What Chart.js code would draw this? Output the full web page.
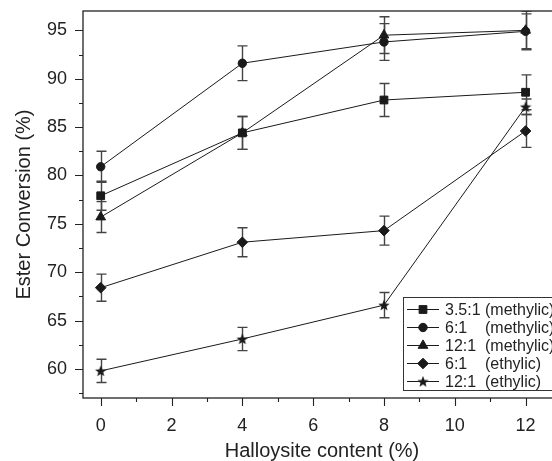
<!DOCTYPE html>
<html>
<head>
<meta charset="utf-8">
<script src="https://cdn.jsdelivr.net/npm/chart.js@4"></script>
<style>
  html, body { margin: 0; padding: 0; background: #fff; overflow: hidden; }
  #wrap { width: 580px; height: 461px; }
</style>
</head>
<body>
<div id="wrap"><canvas id="myChart" width="580" height="461"></canvas></div>
<script>
// halloysite content (%)
const xValues = [0, 4, 8, 12];

// ester conversion (%) and error bars per series
const ratio35Methylic = [77.9, 84.4, 87.8, 88.6];
const ratio35MethylicErr = [1.5, 1.7, 1.7, 1.8];
const ratio6Methylic = [80.9, 91.6, 93.8, 94.9];
const ratio6MethylicErr = [1.6, 1.8, 1.9, 1.8];
const ratio12Methylic = [75.7, 84.4, 94.5, 95.0];
const ratio12MethylicErr = [1.6, 1.7, 1.9, 2.0];
const ratio6Ethylic = [68.4, 73.1, 74.3, 84.6];
const ratio6EthylicErr = [1.4, 1.5, 1.5, 1.7];
const ratio12Ethylic = [59.8, 63.1, 66.6, 87.1];
const ratio12EthylicErr = [1.2, 1.2, 1.3, 0.8];

const legendRatios = ['3.5:1', '6:1', '12:1', '6:1', '12:1'];
const legendAlcohols = ['(methylic)', '(methylic)', '(methylic)', '(ethylic)', '(ethylic)'];

const xTicks = [0, 2, 4, 6, 8, 10, 12];
const xMinor = [1, 3, 5, 7, 9, 11];
const yTicks = [60, 65, 70, 75, 80, 85, 90, 95];
const yMinor = [57.5, 62.5, 67.5, 72.5, 77.5, 82.5, 87.5, 92.5];

const FONT = '"Liberation Sans", Arial, Helvetica, sans-serif';
const INK = '#1a1a1a';

// filled five point star for the 12:1 ethylic series
function makeStar(size) {
    const c = document.createElement('canvas');
    c.width = size; c.height = size;
    const g = c.getContext('2d');
    const cx = size / 2, cy = size / 2 + 0.5, ro = size / 2, ri = size / 4.6;
    g.beginPath();
    for (let i = 0; i < 10; i++) {
        const r = i % 2 ? ri : ro;
        const a = -Math.PI / 2 + i * Math.PI / 5;
        g.lineTo(cx + r * Math.cos(a), cy + r * Math.sin(a));
    }
    g.closePath();
    g.fillStyle = INK;
    g.fill();
    return c;
}
const starImg = makeStar(12);

function toPoints(values) {
    return values.map((v, i) => ({ x: xValues[i], y: v }));
}

function series(label, values, errs, style, radius) {
    return {
        label: label,
        data: toPoints(values),
        errors: errs,
        borderColor: INK,
        borderWidth: 1,
        backgroundColor: INK,
        pointBackgroundColor: INK,
        pointBorderColor: INK,
        pointBorderWidth: 1,
        pointStyle: style,
        pointRadius: radius,
        tension: 0,
        fill: false
    };
}

const datasets = [
    series('3.5:1 (methylic)', ratio35Methylic, ratio35MethylicErr, 'rect', 5.5),
    series('6:1 (methylic)', ratio6Methylic, ratio6MethylicErr, 'circle', 4.2),
    series('12:1 (methylic)', ratio12Methylic, ratio12MethylicErr, 'triangle', 5.6),
    series('6:1 (ethylic)', ratio6Ethylic, ratio6EthylicErr, 'rectRot', 5.3),
    series('12:1 (ethylic)', ratio12Ethylic, ratio12EthylicErr, starImg, 6)
];

const errorBars = {
    id: 'errorBars',
    beforeDatasetsDraw(chart) {
        const { ctx, scales: { x, y }, chartArea: a } = chart;
        ctx.save();
        ctx.beginPath();
        ctx.rect(a.left, a.top, a.right - a.left, a.bottom - a.top);
        ctx.clip();
        ctx.strokeStyle = '#444';
        ctx.lineWidth = 1.4;
        chart.data.datasets.forEach(ds => {
            ds.data.forEach((pt, j) => {
                const e = ds.errors[j];
                const px = Math.round(x.getPixelForValue(pt.x)) + 0.5;
                const top = y.getPixelForValue(pt.y + e);
                const bot = y.getPixelForValue(pt.y - e);
                ctx.beginPath();
                ctx.moveTo(px, top); ctx.lineTo(px, bot);
                ctx.moveTo(px - 5, top); ctx.lineTo(px + 5, top);
                ctx.moveTo(px - 5, bot); ctx.lineTo(px + 5, bot);
                ctx.stroke();
            });
        });
        ctx.restore();
    }
};

const frameAndTicks = {
    id: 'frameAndTicks',
    afterDraw(chart) {
        const { ctx, chartArea: a, scales: { x, y } } = chart;
        ctx.save();
        ctx.strokeStyle = '#222';
        ctx.lineWidth = 1.3;
        ctx.strokeRect(a.left, a.top, a.right - a.left, a.bottom - a.top);
        ctx.lineWidth = 1.1;
        ctx.beginPath();
        yTicks.forEach(v => {
            const p = Math.round(y.getPixelForValue(v)) + 0.5;
            ctx.moveTo(a.left, p); ctx.lineTo(a.left - 8, p);
        });
        yMinor.forEach(v => {
            const p = Math.round(y.getPixelForValue(v)) + 0.5;
            ctx.moveTo(a.left, p); ctx.lineTo(a.left - 4, p);
        });
        xTicks.forEach(v => {
            const p = Math.round(x.getPixelForValue(v)) + 0.5;
            ctx.moveTo(p, a.bottom); ctx.lineTo(p, a.bottom + 8);
        });
        xMinor.forEach(v => {
            const p = Math.round(x.getPixelForValue(v)) + 0.5;
            ctx.moveTo(p, a.bottom); ctx.lineTo(p, a.bottom + 4);
        });
        ctx.stroke();

        // legend box, lower right, ratio and alcohol in two columns
        const boxLeft = 403.5, boxTop = 297.5, rowGap = 18;
        ctx.fillStyle = '#fff';
        ctx.fillRect(boxLeft, boxTop, 200, 93);
        ctx.strokeStyle = '#333';
        ctx.lineWidth = 1;
        ctx.strokeRect(boxLeft, boxTop, 200, 93);
        ctx.font = '16px ' + FONT;
        ctx.textBaseline = 'middle';
        ctx.textAlign = 'left';
        chart.data.datasets.forEach((ds, i) => {
            const ry = boxTop + 12 + i * rowGap;
            ctx.strokeStyle = INK;
            ctx.lineWidth = 1;
            ctx.beginPath();
            ctx.moveTo(407, ry); ctx.lineTo(439, ry);
            ctx.stroke();
            ctx.fillStyle = INK;
            Chart.helpers.drawPoint(ctx, {
                pointStyle: ds.pointStyle, radius: ds.pointRadius, rotation: 0, borderWidth: 1
            }, 423, ry);
            ctx.fillStyle = '#222';
            ctx.fillText(legendRatios[i], 445, ry + 1);
            ctx.fillText(legendAlcohols[i], 485, ry + 1);
        });
        ctx.restore();
    }
};

const ctx = document.getElementById('myChart').getContext('2d');
new Chart(ctx, {
    type: 'line',
    data: { datasets: datasets },
    options: {
        responsive: false,
        animation: false,
        events: [],
        layout: { padding: { left: 0, top: 11, right: 19, bottom: 0 } },
        plugins: {
            legend: { display: false },
            tooltip: { enabled: false }
        },
        scales: {
            x: {
                type: 'linear',
                min: -0.5,
                max: 13,
                afterFit(scale) {
                    scale.height = 63;
                    scale.paddingLeft = 0;
                    scale.paddingRight = 0;
                },
                afterBuildTicks(scale) { scale.ticks = xTicks.map(v => ({ value: v })); },
                grid: { display: false, drawTicks: false },
                border: { display: false },
                ticks: {
                    padding: 17,
                    color: '#222',
                    font: { family: FONT, size: 18 },
                    maxRotation: 0
                },
                title: {
                    display: true,
                    text: 'Halloysite content (%)',
                    color: '#222',
                    font: { family: FONT, size: 20, lineHeight: 1 },
                    padding: { top: 0, bottom: 0 }
                }
            },
            y: {
                type: 'linear',
                min: 57,
                max: 97,
                afterFit(scale) {
                    scale.width = 83;
                    scale.paddingTop = 0;
                    scale.paddingBottom = 0;
                },
                afterBuildTicks(scale) { scale.ticks = yTicks.map(v => ({ value: v })); },
                grid: { display: false, drawTicks: false },
                border: { display: false },
                ticks: {
                    padding: 16,
                    color: '#222',
                    font: { family: FONT, size: 18 }
                },
                title: {
                    display: true,
                    text: 'Ester Conversion (%)',
                    color: '#222',
                    font: { family: FONT, size: 20, lineHeight: 1.2 },
                    padding: { top: 12, bottom: 0 }
                }
            }
        }
    },
    plugins: [errorBars, frameAndTicks]
});
</script>
</body>
</html>
